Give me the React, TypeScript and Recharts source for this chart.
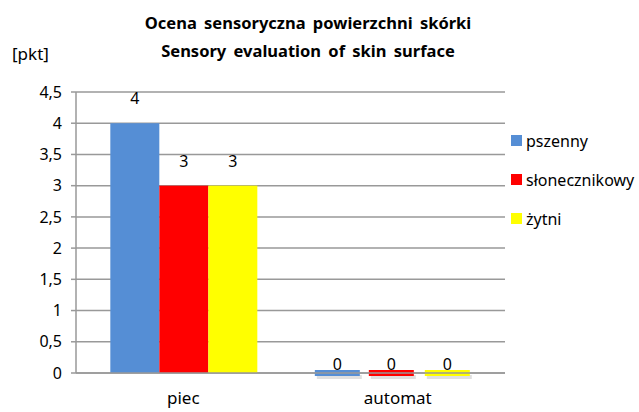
import React from 'react';
import { BarChart, Bar, XAxis, YAxis, CartesianGrid, LabelList } from 'recharts';

const categories = ['piec', 'automat'];
const pszenny = [4, 0];
const slonecznikowy = [3, 0];
const zytni = [3, 0];
const yTicks = [0, 0.5, 1, 1.5, 2, 2.5, 3, 3.5, 4, 4.5];

const series = [
  { key: 'pszenny', name: 'pszenny', color: '#558ED5', values: pszenny },
  { key: 'slonecznikowy', name: 'słonecznikowy', color: '#FF0000', values: slonecznikowy },
  { key: 'zytni', name: 'żytni', color: '#FFFF00', values: zytni },
];

const data = categories.map((c, i) => ({
  name: c,
  pszenny: pszenny[i],
  slonecznikowy: slonecznikowy[i],
  zytni: zytni[i],
}));

const FONT = '"Noto Sans", "Liberation Sans", sans-serif';
// horizontal nudge of the flat zero markers, per series
const zeroShift = [-12, -7, 0];

// zero values are drawn as thin flat markers sitting on the axis
const makeShape = (color: string, shift: number) => (props: any) => {
  const { x, y, width, height, value } = props;
  const v = Array.isArray(value) ? value[1] - value[0] : value;
  if (!v) {
    const w = width - 4;
    const cx = x + width / 2 + shift;
    return (
      <g>
        <rect x={cx - w / 2 + 2} y={y + 2} width={w} height={4} fill="#000" opacity={0.12} />
        <rect x={cx - w / 2} y={y - 3} width={w} height={6} fill={color} />
      </g>
    );
  }
  return <rect x={x} y={y} width={width} height={height} fill={color} />;
};

const makeLabel = (shift: number) => (props: any) => {
  const { x, y, width, value } = props;
  const isZero = !value;
  const cx = x + width / 2 + (isZero ? shift : 0);
  const ty = isZero ? y - 3 : y - 19;
  return (
    <text x={cx} y={ty} textAnchor="middle" fontSize={16} fontFamily={FONT} fill="#000">
      {value}
    </text>
  );
};

export default function App() {
  return (
    <div style={{ position: 'absolute', left: 0, top: 0, width: 639, height: 412, background: '#fff' }}>
      <div
        style={{
          position: 'absolute',
          left: 0,
          width: 616,
          top: 9,
          textAlign: 'center',
          fontFamily: FONT,
          fontWeight: 700,
          fontSize: 16.5,
          lineHeight: '28px',
          wordSpacing: 3,
        }}
      >
        <div>Ocena sensoryczna powierzchni skórki</div>
        <div>Sensory evaluation of skin surface</div>
      </div>
      <div style={{ position: 'absolute', left: 12, top: 42, fontFamily: FONT, fontSize: 17 }}>[pkt]</div>
      <div style={{ position: 'absolute', left: 511, top: 121, fontFamily: FONT, fontSize: 16 }}>
        {series.map((s) => (
          <div key={s.key} style={{ display: 'flex', alignItems: 'center', height: 39 }}>
            <span style={{ width: 11, height: 11, background: s.color, display: 'inline-block', marginRight: 4 }} />
            <span>{s.name}</span>
          </div>
        ))}
      </div>
      <BarChart
        width={639}
        height={412}
        data={data}
        margin={{ top: 92, right: 134, left: 0, bottom: 9 }}
        barCategoryGap="16%"
        barGap={0}
      >
        <CartesianGrid vertical={false} stroke="#999" strokeWidth={1.5} />
        <XAxis
          dataKey="name"
          height={30}
          axisLine={{ stroke: '#999', strokeWidth: 1.5 }}
          tickLine={false}
          tick={{ fontSize: 17, fill: '#000', fontFamily: FONT, dy: 11 }}
        />
        <YAxis
          width={76}
          domain={[0, 4.5]}
          ticks={yTicks}
          interval={0}
          axisLine={{ stroke: '#999', strokeWidth: 1.5 }}
          tickLine={{ stroke: '#999', strokeWidth: 1.5 }}
          tickSize={5}
          tickFormatter={(v: number) => String(v).replace('.', ',')}
          tick={{ fontSize: 16, fill: '#000', fontFamily: FONT, dx: -7 }}
        />
        {series.map((s, i) => (
          <Bar
            key={s.key}
            dataKey={s.key}
            name={s.name}
            fill={s.color}
            isAnimationActive={false}
            shape={makeShape(s.color, zeroShift[i])}
          >
            <LabelList dataKey={s.key} content={makeLabel(zeroShift[i])} />
          </Bar>
        ))}
      </BarChart>
    </div>
  );
}
